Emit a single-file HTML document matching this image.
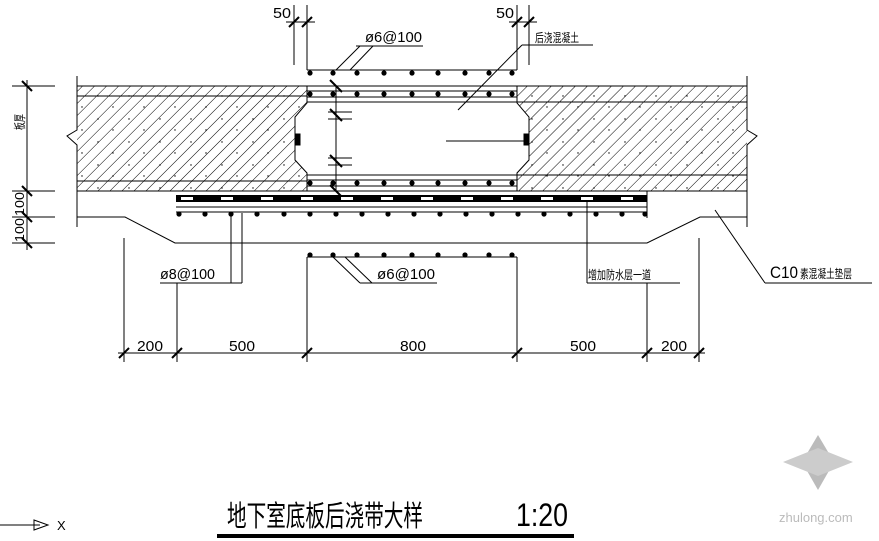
<!DOCTYPE html>
<html><head><meta charset="utf-8"><style>
body{margin:0;background:#fff;width:879px;height:541px;overflow:hidden}
svg{display:block}
text{font-family:"Liberation Sans","Noto Sans CJK SC",sans-serif;fill:#000}
</style></head><body>
<svg width="879" height="541" viewBox="0 0 879 541" xmlns="http://www.w3.org/2000/svg">
<defs>
<pattern id="h" width="8.5" height="8.5" patternUnits="userSpaceOnUse" patternTransform="rotate(45)">
<line x1="0" y1="0" x2="0" y2="8.5" stroke="#000" stroke-width="1"/>
</pattern>
<pattern id="dots" width="31" height="23" patternUnits="userSpaceOnUse">
<circle cx="5" cy="4" r="0.7" fill="#000"/><circle cx="20" cy="15" r="0.7" fill="#000"/>
</pattern>
<g id="rd"><circle cx="310" cy="0" r="2.6"/><circle cx="333" cy="0" r="2.6"/><circle cx="357" cy="0" r="2.6"/><circle cx="384" cy="0" r="2.6"/><circle cx="412" cy="0" r="2.6"/><circle cx="438" cy="0" r="2.6"/><circle cx="465" cy="0" r="2.6"/><circle cx="489" cy="0" r="2.6"/><circle cx="512" cy="0" r="2.6"/></g>
</defs>
<g stroke="#000" stroke-width="1" fill="none">
<path d="M77,86 H307 V103 L295,117 V160 L307,173 V191 H77 Z" fill="url(#h)" stroke="none"/>
<path d="M517,86 H747 V191 H517 V173 L529,160 V117 L517,103 Z" fill="url(#h)" stroke="none"/>
<path d="M77,86 H307 V103 L295,117 V160 L307,173 V191 H77 Z" fill="url(#dots)" stroke="none"/>
<path d="M517,86 H747 V191 H517 V173 L529,160 V117 L517,103 Z" fill="url(#dots)" stroke="none"/>
<line x1="77" y1="86" x2="747" y2="86"/>
<line x1="77" y1="96" x2="307" y2="96"/><line x1="517" y1="102" x2="747" y2="102"/>
<line x1="77" y1="181" x2="307" y2="181"/><line x1="517" y1="175" x2="747" y2="175"/>
<line x1="77" y1="191" x2="747" y2="191"/>
<path d="M307,86 V103 L295,117 V160 L307,173 V191"/>
<path d="M517,86 V103 L529,117 V160 L517,173 V191"/>
<path d="M77,76 V130 L67,136 L77,145 L77,155 V227"/>
<path d="M747,76 V130 L757,136 L747,145 L747,155 V227"/>
<rect x="295" y="134" width="5" height="11" fill="#000"/>
<rect x="524" y="134" width="5" height="11" fill="#000"/>
<line x1="307" y1="70" x2="517" y2="70"/>
<line x1="307" y1="91" x2="517" y2="91"/><line x1="307" y1="97" x2="517" y2="97"/>
<line x1="307" y1="102" x2="517" y2="102"/>
<line x1="307" y1="175" x2="517" y2="175"/>
<line x1="307" y1="180" x2="517" y2="180"/><line x1="307" y1="186" x2="517" y2="186"/>
<line x1="336" y1="86" x2="336" y2="191"/>
<line x1="328" y1="112" x2="352" y2="112"/><line x1="328" y1="119" x2="352" y2="119"/>
<line x1="328" y1="158" x2="352" y2="158"/><line x1="328" y1="165" x2="352" y2="165"/>
<line x1="330" y1="109" x2="342" y2="121" stroke-width="2"/><line x1="330" y1="155" x2="342" y2="167" stroke-width="2"/>
<line x1="330" y1="80" x2="342" y2="92" stroke-width="2"/><line x1="330" y1="185" x2="342" y2="197" stroke-width="2"/>
<line x1="446" y1="141" x2="524" y2="141"/>
<line x1="176" y1="207" x2="647" y2="207"/>
<line x1="176" y1="212" x2="647" y2="212"/>
<line x1="647" y1="191" x2="647" y2="218"/>
<path d="M77,217 H125 L175,243 H647 L700,217 H747"/>
<rect x="176" y="195" width="471" height="7" fill="#000" stroke="none"/>
<line x1="176" y1="198.5" x2="647" y2="198.5" stroke="#fff" stroke-width="3" stroke-dasharray="12,28" stroke-dashoffset="-5"/>
<line x1="307" y1="257" x2="517" y2="257"/>
<line x1="336" y1="70" x2="360" y2="46"/><line x1="350" y1="70" x2="373" y2="46"/>
<line x1="356" y1="46" x2="423" y2="46"/>
<line x1="458" y1="110" x2="522" y2="45"/><line x1="522" y1="45" x2="593" y2="45"/>
<line x1="231" y1="213" x2="231" y2="283"/><line x1="242" y1="213" x2="242" y2="283"/>
<line x1="160" y1="283" x2="242" y2="283"/>
<line x1="333" y1="257" x2="360" y2="283"/><line x1="345" y1="257" x2="372" y2="283"/>
<line x1="360" y1="283" x2="437" y2="283"/>
<line x1="587" y1="200" x2="587" y2="283"/><line x1="587" y1="283" x2="680" y2="283"/>
<line x1="715" y1="210" x2="765" y2="283"/><line x1="765" y1="283" x2="872" y2="283"/>
<line x1="294" y1="5" x2="294" y2="65"/><line x1="307" y1="5" x2="307" y2="70"/>
<line x1="286" y1="22" x2="315" y2="22"/>
<line x1="289" y1="27" x2="299" y2="17" stroke-width="2"/><line x1="302" y1="27" x2="312" y2="17" stroke-width="2"/>
<line x1="517" y1="5" x2="517" y2="70"/><line x1="529" y1="5" x2="529" y2="65"/>
<line x1="509" y1="22" x2="537" y2="22"/>
<line x1="512" y1="27" x2="522" y2="17" stroke-width="2"/><line x1="524" y1="27" x2="534" y2="17" stroke-width="2"/>
<line x1="27" y1="80" x2="27" y2="250"/>
<line x1="12" y1="86" x2="55" y2="86"/><line x1="12" y1="191" x2="55" y2="191"/>
<line x1="12" y1="217" x2="55" y2="217"/><line x1="12" y1="243" x2="55" y2="243"/>
<line x1="22" y1="81" x2="32" y2="91" stroke-width="2"/><line x1="22" y1="186" x2="32" y2="196" stroke-width="2"/>
<line x1="22" y1="212" x2="32" y2="222" stroke-width="2"/><line x1="22" y1="238" x2="32" y2="248" stroke-width="2"/>
<line x1="118" y1="353" x2="705" y2="353"/>
<line x1="124" y1="238" x2="124" y2="362"/><line x1="177" y1="283" x2="177" y2="362"/>
<line x1="307" y1="257" x2="307" y2="362"/><line x1="517" y1="257" x2="517" y2="362"/>
<line x1="647" y1="283" x2="647" y2="362"/><line x1="699" y1="238" x2="699" y2="362"/>
<g stroke-width="2">
<line x1="119" y1="358" x2="129" y2="348"/><line x1="172" y1="358" x2="182" y2="348"/>
<line x1="302" y1="358" x2="312" y2="348"/><line x1="512" y1="358" x2="522" y2="348"/>
<line x1="642" y1="358" x2="652" y2="348"/><line x1="694" y1="358" x2="704" y2="348"/>
</g>
<line x1="0" y1="525" x2="40" y2="525"/>
<path d="M34,520 L48,525 L34,530 Z"/>
</g>
<g fill="#000">
<use href="#rd" y="73"/><use href="#rd" y="94"/><use href="#rd" y="183"/><use href="#rd" y="255"/>
<circle cx="179" cy="214" r="2.6"/><circle cx="205" cy="214" r="2.6"/><circle cx="231" cy="214" r="2.6"/><circle cx="257" cy="214" r="2.6"/><circle cx="284" cy="214" r="2.6"/><circle cx="310" cy="214" r="2.6"/><circle cx="336" cy="214" r="2.6"/><circle cx="362" cy="214" r="2.6"/><circle cx="388" cy="214" r="2.6"/><circle cx="414" cy="214" r="2.6"/><circle cx="440" cy="214" r="2.6"/><circle cx="466" cy="214" r="2.6"/><circle cx="492" cy="214" r="2.6"/><circle cx="518" cy="214" r="2.6"/><circle cx="544" cy="214" r="2.6"/><circle cx="570" cy="214" r="2.6"/><circle cx="596" cy="214" r="2.6"/><circle cx="622" cy="214" r="2.6"/><circle cx="645" cy="214" r="2.6"/>
<rect x="217" y="534" width="357" height="4"/>
</g>
<text x="273" y="18" font-size="15" textLength="18" lengthAdjust="spacingAndGlyphs">50</text>
<text x="496" y="18" font-size="15" textLength="18" lengthAdjust="spacingAndGlyphs">50</text>
<text x="365" y="42" font-size="15" textLength="57" lengthAdjust="spacingAndGlyphs">ø6@100</text>
<text x="535" y="42" font-size="12" textLength="44" lengthAdjust="spacingAndGlyphs">后浇混凝土</text>
<text x="160" y="279" font-size="15" textLength="55" lengthAdjust="spacingAndGlyphs">ø8@100</text>
<text x="377" y="279" font-size="15" textLength="58" lengthAdjust="spacingAndGlyphs">ø6@100</text>
<text x="588" y="279" font-size="12" textLength="63" lengthAdjust="spacingAndGlyphs">增加防水层一道</text>
<text x="770" y="278" font-size="17" textLength="28" lengthAdjust="spacingAndGlyphs">C10</text>
<text x="800" y="278" font-size="12" textLength="52" lengthAdjust="spacingAndGlyphs">素混凝土垫层</text>
<text x="137" y="351" font-size="15" textLength="26" lengthAdjust="spacingAndGlyphs">200</text>
<text x="229" y="351" font-size="15" textLength="26" lengthAdjust="spacingAndGlyphs">500</text>
<text x="400" y="351" font-size="15" textLength="26" lengthAdjust="spacingAndGlyphs">800</text>
<text x="570" y="351" font-size="15" textLength="26" lengthAdjust="spacingAndGlyphs">500</text>
<text x="661" y="351" font-size="15" textLength="26" lengthAdjust="spacingAndGlyphs">200</text>
<text x="57" y="530" font-size="13">X</text>
<text transform="translate(24,130) rotate(-90)" font-size="12" textLength="16" lengthAdjust="spacingAndGlyphs">板厚</text>
<text transform="translate(24,216) rotate(-90)" font-size="13" textLength="24" lengthAdjust="spacingAndGlyphs">100</text>
<text transform="translate(24,242) rotate(-90)" font-size="13" textLength="24" lengthAdjust="spacingAndGlyphs">100</text>
<text x="227" y="526" font-size="29" textLength="196" lengthAdjust="spacingAndGlyphs">地下室底板后浇带大样</text>
<text x="516" y="526" font-size="32" textLength="52" lengthAdjust="spacingAndGlyphs">1:20</text>
<g fill="#bbb">
<path d="M818,435 L834,462 L818,490 L802,462 Z"/>
<path d="M783,462 L818,448 L853,462 L818,476 Z" fill="#ccc"/>
</g>
<text x="779" y="522" font-size="13" style="fill:#bbb">zhulong.com</text>
</svg>
</body></html>
